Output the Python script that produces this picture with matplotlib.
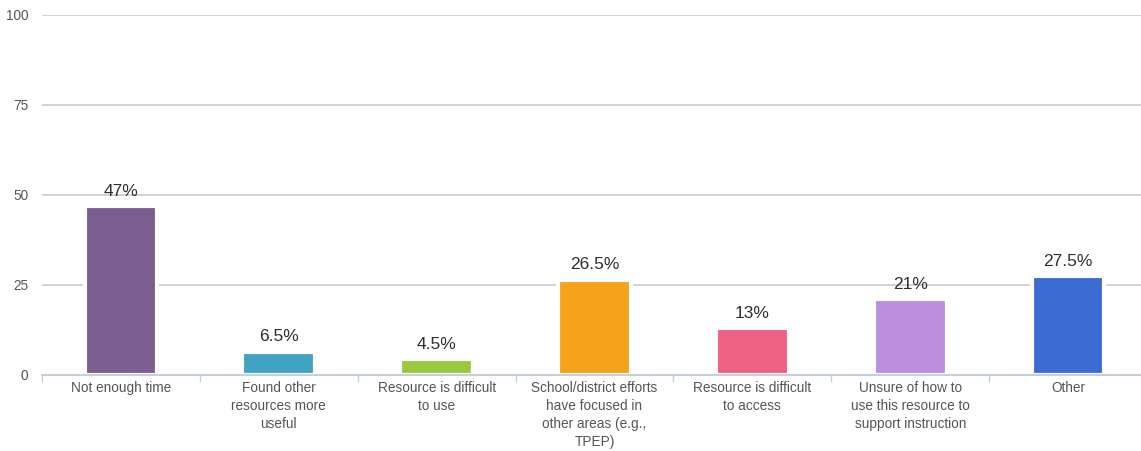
import numpy as np
import matplotlib.pyplot as plt

plt.rcParams['font.family'] = ['Liberation Sans', 'DejaVu Sans']

categories = ['Not enough time', 'Found other\nresources more\nuseful', 'Resource is difficult\nto use',
              'School/district efforts\nhave focused in\nother areas (e.g.,\nTPEP)', 'Resource is difficult\nto access',
              'Unsure of how to\nuse this resource to\nsupport instruction', 'Other']
values = [47, 6.5, 4.5, 26.5, 13, 21, 27.5]
labels = ['47%', '6.5%', '4.5%', '26.5%', '13%', '21%', '27.5%']
colors = ['#7B5E8F', '#3FA3C1', '#98C93C', '#F4A31B', '#EE6183', '#BB8EDE', '#3B6BD3']

fig = plt.figure(figsize=(11.41, 4.51), dpi=100)
ax = fig.add_axes([42 / 1141, 76 / 451, 1105 / 1141, 360 / 451])

x = np.arange(len(values))
ax.bar(x, values, width=0.46, color=colors, edgecolor='white', linewidth=3, zorder=3)
for xi, v, lab in zip(x, values, labels):
    ax.text(xi, v + 2.0, lab, ha='center', va='bottom', fontsize=12.5, color='#2E2E2E')

ax.set_xlim(-0.5, len(values) - 0.5)
ax.set_ylim(0, 100)
ax.set_yticks([0, 25, 50, 75, 100])
ax.yaxis.grid(True, color='#C6C6C6', linewidth=1.1, zorder=0)
ax.tick_params(axis='y', length=0, pad=10, labelsize=9.8, labelcolor='#555555')

# category labels centred, with small separator ticks between groups
ax.set_xticks(x)
ax.set_xticklabels(categories, fontsize=9.8, color='#555555', linespacing=1.38)
ax.tick_params(axis='x', which='major', length=0, pad=4)
ax.set_xticks(np.arange(len(values) + 1) - 0.5, minor=True)
ax.tick_params(axis='x', which='minor', length=5, color='#C5D0DD', width=1)

for s in ['top', 'right', 'left']:
    ax.spines[s].set_visible(False)
ax.spines['bottom'].set_color('#C5D0DD')
ax.spines['bottom'].set_linewidth(1.5)
ax.spines['bottom'].set_zorder(4)

fig.savefig('out.png', dpi=100)
